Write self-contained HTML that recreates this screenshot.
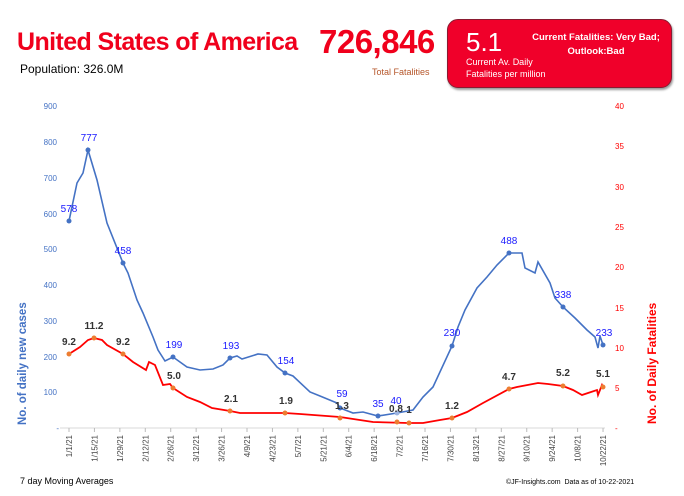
<!DOCTYPE html><html><head><meta charset="utf-8"><style>
body{margin:0;width:684px;height:496px;background:#fff;font-family:"Liberation Sans",sans-serif;position:relative;overflow:hidden}
.a{position:absolute;white-space:nowrap}
</style></head><body>
<div class="a" style="left:17px;top:28px;font-size:25px;font-weight:bold;color:#f0001c;letter-spacing:-0.6px">United States of America</div>
<div class="a" style="left:20px;top:62px;font-size:12px;color:#000">Population: 326.0M</div>
<div class="a" style="left:319px;top:23px;font-size:33px;font-weight:bold;color:#f0001c;letter-spacing:-0.5px">726,846</div>
<div class="a" style="left:372px;top:67px;font-size:9px;color:#b5562a">Total Fatalities</div>
<div class="a" style="left:447px;top:19px;width:223px;height:67px;background:#f0002a;border-radius:11px;border:1px solid #8a1a30;box-shadow:1px 2px 2px #999"></div>
<div class="a" style="left:466px;top:27px;font-size:26px;color:#fff">5.1</div>
<div class="a" style="left:466px;top:56px;font-size:9px;color:#fff;line-height:12px">Current Av. Daily<br>Fatalities per million</div>
<div class="a" style="left:530px;top:31px;width:132px;text-align:center;font-size:9.5px;font-weight:bold;color:#fff;line-height:14px">Current Fatalities: Very Bad;<br>Outlook:Bad</div>
<div class="a" style="left:20px;top:476px;font-size:9px">7 day Moving Averages</div>
<div class="a" style="left:506px;top:479px;font-size:7px">©JF-Insights.com&nbsp; Data as of 10-22-2021</div>
<svg class="a" style="left:0;top:0" width="684" height="496" font-family="Liberation Sans,sans-serif">
<line x1="60" y1="428" x2="605" y2="428" stroke="#d9d9d9"/>
<g font-size="8" fill="#4472c4" text-anchor="end">
<text x="57" y="109">900</text><text x="57" y="145">800</text><text x="57" y="181">700</text><text x="57" y="217">600</text><text x="57" y="252">500</text><text x="57" y="288">400</text><text x="57" y="324">300</text><text x="57" y="360">200</text><text x="57" y="395">100</text><text x="59" y="431">-</text></g>
<g font-size="8" fill="#ff0000">
<text x="615" y="109">40</text><text x="615" y="149">35</text><text x="615" y="190">30</text><text x="615" y="230">25</text><text x="615" y="270">20</text><text x="615" y="311">15</text><text x="615" y="351">10</text><text x="615" y="391">5</text><text x="615" y="431">-</text></g>
<text transform="translate(26,425) rotate(-90)" font-size="11.5" font-weight="bold" fill="#4472c4">No. of daily new  cases</text>
<text transform="translate(656,424) rotate(-90)" font-size="12" font-weight="bold" fill="#ff0000">No. of Daily Fatalities</text>
<g font-size="8" fill="#444" id="xl"></g>
<polyline fill="none" stroke="#4472c4" stroke-width="1.6" points="69,221 77,183 83,173 88,150 97,180 107,223 123,263 128,273 137,300 143,313 153,337 158,350 165,361 173,357 187,367 200,370 213,369 223,365 230,358 237,356 242,359 258,354 267,355 277,367 285,373 293,376 310,392 320,396 337,403 340,408 353,413 363,412 378,416 397,413 413,410 423,397 433,387 452,346 458,327 465,310 477,288 487,277 497,265 509,253 522,253 525,268 535,273 538,262 550,283 555,298 563,307 575,318 587,330 595,337 598,348 600,336 603,345"/>
<polyline fill="none" stroke="#ff0000" stroke-width="1.8" points="69,354 80,347 88,340 94,338 102,340 107,345 123,354 133,362 146,370 149,362 155,365 163,385 170,384 173,388 187,397 200,402 212,408 230,411 240,413 285,413 300,414 340,417 373,422 408,423 423,423 440,420 452,418 467,412 483,403 509,389 517,387 538,383 548,384 563,386 573,390 582,395 588,393 597,390 598,395 602,385 603,387"/>
<g fill="#4472c4"><circle cx="69" cy="221" r="2.5"/><circle cx="88" cy="150" r="2.5"/><circle cx="123" cy="263" r="2.5"/><circle cx="173" cy="357" r="2.5"/><circle cx="230" cy="358" r="2.5"/><circle cx="285" cy="373" r="2.5"/><circle cx="340" cy="408" r="2.5"/><circle cx="378" cy="416" r="2.5"/><circle cx="397" cy="413" r="2.5" fill="#9db4e0"/><circle cx="452" cy="346" r="2.5"/><circle cx="509" cy="253" r="2.5"/><circle cx="563" cy="307" r="2.5"/><circle cx="603" cy="345" r="2.5"/></g>
<g fill="#ed7d31"><circle cx="69" cy="354" r="2.5"/><circle cx="94" cy="338" r="2.5"/><circle cx="123" cy="354" r="2.5"/><circle cx="173" cy="388" r="2.5"/><circle cx="230" cy="411" r="2.5"/><circle cx="285" cy="413" r="2.5"/><circle cx="340" cy="418" r="2.5"/><circle cx="397" cy="422" r="2.5"/><circle cx="409" cy="423" r="2.5"/><circle cx="452" cy="418" r="2.5"/><circle cx="509" cy="389" r="2.5"/><circle cx="563" cy="386" r="2.5"/><circle cx="603" cy="387" r="2.5"/></g>
<g font-size="10" fill="#1a1aff" text-anchor="middle"><text x="69" y="212">578</text><text x="89" y="141">777</text><text x="123" y="254">458</text><text x="174" y="348">199</text><text x="231" y="349">193</text><text x="286" y="364">154</text><text x="342" y="397">59</text><text x="378" y="407">35</text><text x="396" y="404">40</text><text x="452" y="336">230</text><text x="509" y="244">488</text><text x="563" y="298">338</text><text x="604" y="336">233</text></g>
<g font-size="10" font-weight="bold" fill="#333" text-anchor="middle"><text x="69" y="345">9.2</text><text x="94" y="329">11.2</text><text x="123" y="345">9.2</text><text x="174" y="379">5.0</text><text x="231" y="402">2.1</text><text x="286" y="404">1.9</text><text x="342" y="409">1.3</text><text x="396" y="412">0.8</text><text x="409" y="413">1</text><text x="452" y="409">1.2</text><text x="509" y="380">4.7</text><text x="563" y="376">5.2</text><text x="603" y="377">5.1</text></g>
</svg>
<script>
var d=["1/1/21","1/15/21","1/29/21","2/12/21","2/26/21","3/12/21","3/26/21","4/9/21","4/23/21","5/7/21","5/21/21","6/4/21","6/18/21","7/2/21","7/16/21","7/30/21","8/13/21","8/27/21","9/10/21","9/24/21","10/8/21","10/22/21"],ns="http://www.w3.org/2000/svg",g=document.getElementById("xl");
d.forEach(function(t,i){var x=69+i*25.43;var l=document.createElementNS(ns,"line");l.setAttribute("x1",x);l.setAttribute("x2",x);l.setAttribute("y1",428);l.setAttribute("y2",432);l.setAttribute("stroke","#bbb");g.appendChild(l);var e=document.createElementNS(ns,"text");e.setAttribute("transform","translate("+(x+3)+",435) rotate(-90)");e.setAttribute("text-anchor","end");e.textContent=t;g.appendChild(e);});
</script>
</body></html>
